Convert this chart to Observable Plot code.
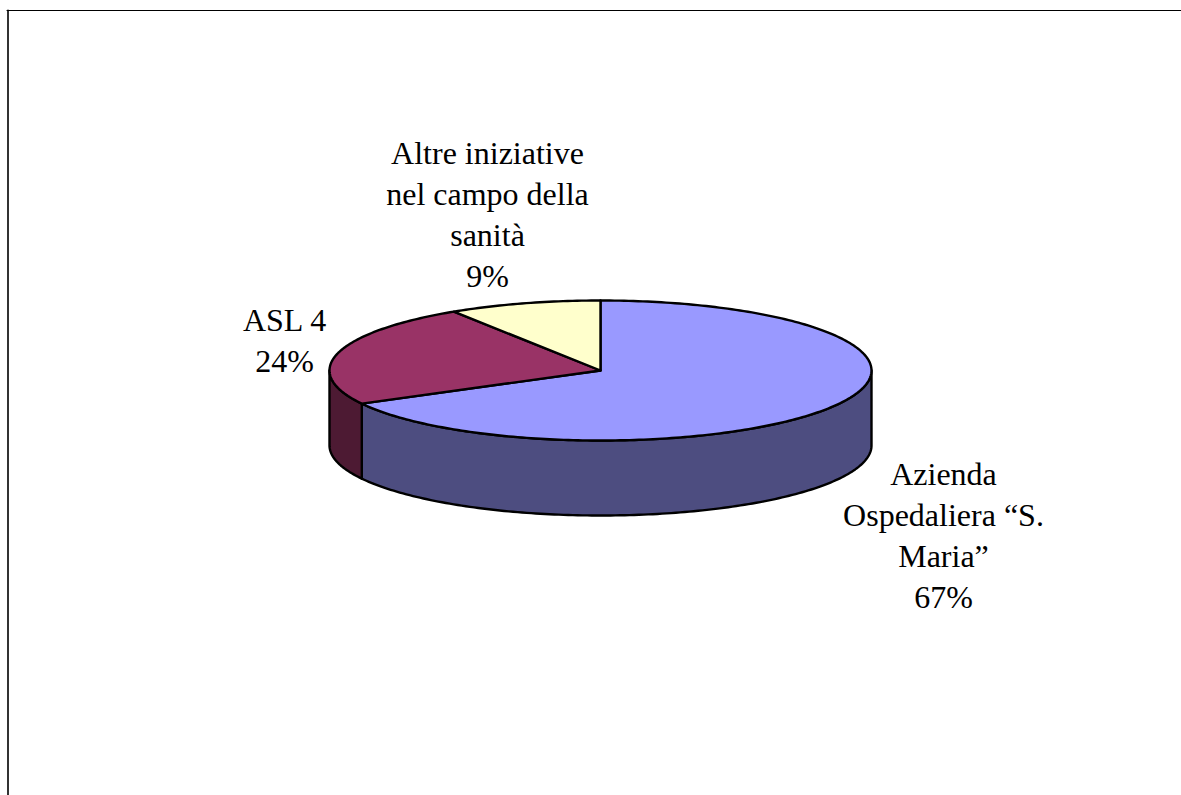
<!DOCTYPE html>
<html><head><meta charset="utf-8">
<script src="https://cdn.jsdelivr.net/npm/d3@7"></script>
<script src="https://cdn.jsdelivr.net/npm/@observablehq/plot@0.6"></script>
<style>html,body{margin:0;padding:0;background:#fff;overflow:hidden}svg{display:block}</style>
</head><body><div id="chart"></div>
<script>
const categories = ["Azienda Ospedaliera “S. Maria”", "ASL 4", "Altre iniziative nel campo della sanità"];
const shares = [67.15, 23.75, 9.1];
const topColors = ["#9999FF", "#993366", "#FFFFCC"];
const sideColors = ["#4D4D80", "#4D1A33", "#80806A"];
const labelLines = [["Azienda","Ospedaliera “S.","Maria”","67%"],["ASL 4","24%"],["Altre iniziative","nel campo della","sanità","9%"]];
const labelAnchors = [[943,474],[284,320],[487,153]];
const lineStep = 41;
const cx=600, cy=370, rx=271, ry=70, depth=75;
const pt=(deg,d=0)=>{const t=deg*Math.PI/180;return {x:cx+rx*Math.sin(t),y:cy-ry*Math.cos(t)+d};};
const arc=(a,b,d=0)=>{const n=Math.max(2,Math.ceil(Math.abs(b-a)));return d3.range(n+1).map(i=>pt(a+(b-a)*i/n,d));};
const centre={x:cx,y:cy};
const style=(fill)=>({x:"x",y:"y",fill,stroke:"#000",strokeWidth:2.4,strokeLinejoin:"round"});
let cum=0;
const slices=shares.map((v,i)=>{const a=cum*3.6;cum+=v;return {i,a,b:cum*3.6};});
const marks=[];
// sides: visible part of the rim lies between 90 and 270 degrees
slices.forEach(s=>{
  const a=Math.max(s.a,90),b=Math.min(s.b,270);
  if(b>a){
    const poly=[...arc(a,b),...arc(b,a,depth)];poly.push(poly[0]);
    marks.push(Plot.line(poly,style(sideColors[s.i])));
  }
});
slices.forEach(s=>{
  const poly=[centre,...arc(s.a,s.b),centre];
  marks.push(Plot.line(poly,style(topColors[s.i])));
});
const labels=labelLines.flatMap((ls,i)=>ls.map((t,j)=>({t,x:labelAnchors[i][0],y:labelAnchors[i][1]+j*lineStep})));
const plot=Plot.plot({
  width:1181,height:795,margin:0,
  x:{domain:[0,1181],axis:null},
  y:{domain:[795,0],axis:null},
  marks:[
    Plot.line([{x:7.5,y:795},{x:7.5,y:10}],{x:"x",y:"y",stroke:"#333",strokeWidth:2}),
    Plot.line([{x:6.5,y:10},{x:1181,y:10}],{x:"x",y:"y",stroke:"#000",strokeWidth:1}),
    ...marks,
    Plot.text(labels,{x:"x",y:"y",text:"t",fontFamily:"Liberation Serif",fontSize:32,fill:"#000",textAnchor:"middle",lineAnchor:"middle"})
  ]
});
document.getElementById("chart").append(plot);
</script></body></html>
